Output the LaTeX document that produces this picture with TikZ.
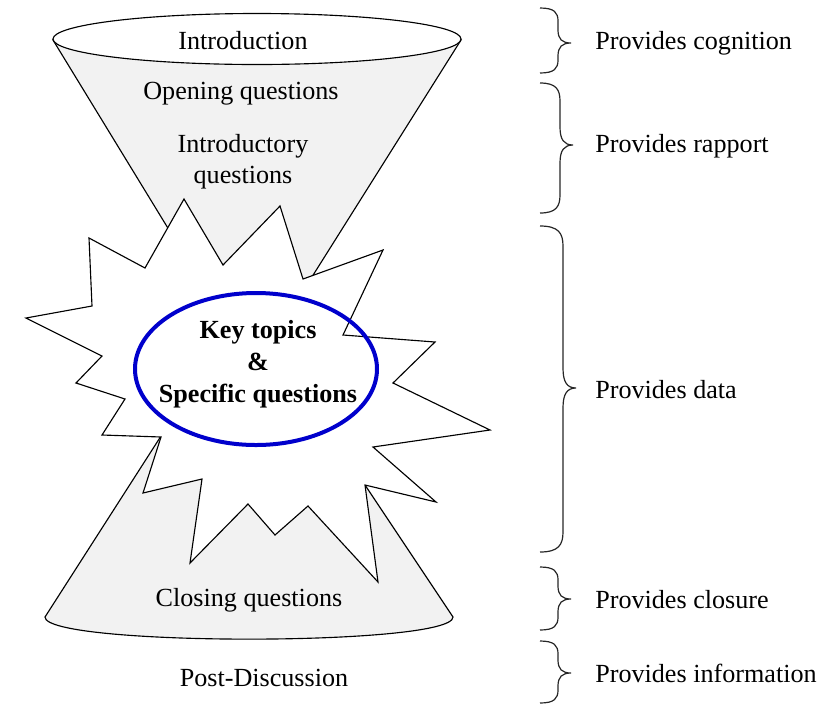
\documentclass[tikz,border=0pt]{standalone}
\usepackage{fontspec}
\setmainfont{Liberation Serif}
\definecolor{funnelgray}{RGB}{242,242,242}
\definecolor{keyblue}{RGB}{0,0,204}
\tikzset{
  outline/.style={draw=black, line width=0.85pt, line join=miter},
  lbl/.style={font=\fontsize{19.6}{23.5}\selectfont, inner sep=0pt, anchor=base, text=black},
  keylbl/.style={lbl, font=\fontsize{19.6}{23.5}\selectfont\bfseries},
  side/.style={font=\fontsize{19.6}{23.5}\selectfont, inner sep=0pt, anchor=base west, text=black},
  bracestyle/.style={draw=black!85, line width=0.9pt},
}
% #1 x0, #2 ytop, #3 ytip, #4 ybot, #5 spine dx, #6 curl r
\newcommand{\curlybrace}[6]{%
  \draw[bracestyle] (#1,#2) .. controls (#1+#5*0.8,#2) and (#1+#5,#2+#6*0.35) .. (#1+#5,#2+#6)
    -- (#1+#5,#3-#6) .. controls (#1+#5,#3-#6*0.3) and (#1+#5+4,#3) .. (#1+#5+13,#3)
    .. controls (#1+#5+4,#3) and (#1+#5,#3+#6*0.3) .. (#1+#5,#3+#6)
    -- (#1+#5,#4-#6) .. controls (#1+#5,#4-#6*0.35) and (#1+#5*0.8,#4) .. (#1,#4);}
\begin{document}
\begin{tikzpicture}[x=0.75pt,y=-0.75pt]
\useasboundingbox (0,0) rectangle (838,704);

% top funnel
\draw[outline, fill=funnelgray] (53,40) -- (254,369) -- (461,40) -- cycle;
\draw[outline, fill=white] (257,39) ellipse [x radius=204, y radius=25.5];

% bottom funnel
\draw[outline, fill=funnelgray] (45,617) -- (245,305) -- (453,617)
  .. controls (453,646.5) and (45,646.5) .. (45,617) -- cycle;

% starburst
\draw[outline, fill=white] (184,199) -- (223,265) -- (280,206) -- (303,279) -- (383,250)
  -- (343,335) -- (435,342) -- (393,383) -- (490,430) -- (373,447) -- (436,502)
  -- (365,485) -- (378,582) -- (308,506) -- (275,535) -- (248,504) -- (190,563)
  -- (202,479) -- (143,493) -- (161,437) -- (102,435) -- (125,399) -- (76,383)
  -- (102,356) -- (26,318) -- (92,306) -- (89,238) -- (145,268) -- cycle;

% key ellipse
\draw[keyblue, line width=3pt] (256,369) ellipse [x radius=121, y radius=76];

% texts
\node[lbl] (intro) at (243,49) {Introduction};
\node[lbl] (opening) at (241,99) {Opening questions};
\node[lbl] (introq1) at (243,152) {Introductory};
\node[lbl] (introq2) at (243,183) {questions};
\node[keylbl] (key1) at (258,338) {Key topics};
\node[keylbl] (key2) at (258,370) {\&};
\node[keylbl] (key3) at (258,402) {Specific questions};
\node[lbl] (closing) at (249,606) {Closing questions};
\node[lbl] (post) at (264,686) {Post-Discussion};

% braces
\curlybrace{540}{8}{43}{73}{18}{13}
\curlybrace{540}{83}{145}{213}{20}{18}
\curlybrace{540}{226}{388}{552}{23}{20}
\curlybrace{540}{567}{599}{630}{18}{13}
\curlybrace{540}{641}{673}{703}{18}{13}

\node[side] (cog) at (595,49) {Provides cognition};
\node[side] (rap) at (595,152) {Provides rapport};
\node[side] (dat) at (595,398) {Provides data};
\node[side] (clo) at (595,608) {Provides closure};
\node[side] (inf) at (595,682) {Provides information};
\end{tikzpicture}
\end{document}
